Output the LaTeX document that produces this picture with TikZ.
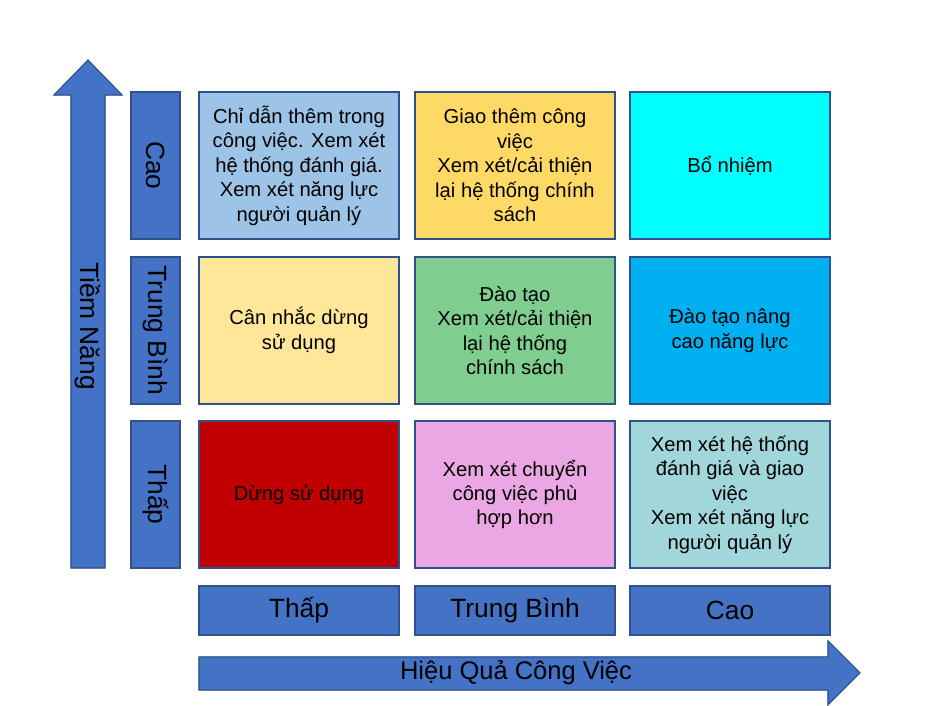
\documentclass[tikz,border=0pt]{standalone}
\usepackage{fontspec}
\setmainfont{Liberation Sans}
\definecolor{axisblue}{HTML}{4472C4}
\definecolor{edgeblue}{HTML}{2F528F}
\definecolor{skyblue}{HTML}{9DC3E6}
\definecolor{gold}{HTML}{FFD966}
\definecolor{aqua}{HTML}{00FFFF}
\definecolor{cream}{HTML}{FFE699}
\definecolor{mint}{HTML}{7FCD8F}
\definecolor{ocean}{HTML}{00B0F0}
\definecolor{crimson}{HTML}{C00000}
\definecolor{orchid}{HTML}{EBA7E4}
\definecolor{teal}{HTML}{A1D7DA}
\tikzset{
  cell/.style={draw=edgeblue, line width=0.6pt, minimum width=4cm, minimum height=2.94cm,
    align=center, font=\fontsize{11.5}{13.9}\selectfont},
  lab/.style={fill=axisblue, draw=edgeblue, line width=0.6pt, font=\fontsize{15}{18}\selectfont},
  axisarrow/.style={fill=axisblue, draw=edgeblue, line width=0.6pt}
}
\begin{document}
\begin{tikzpicture}
\useasboundingbox (0,0) rectangle (18.98,14.12);
% axes
\filldraw[axisblue] (1.42,2.76) -- (1.42,12.22) -- (1.08,12.22) -- (1.76,12.92)
  -- (2.44,12.22) -- (2.10,12.22) -- (2.10,2.76) -- cycle;
\draw[edgeblue, line width=0.6pt] (1.42,2.76) -- (1.42,12.22) -- (1.08,12.22) -- (1.76,12.92)
  -- (2.44,12.22) -- (2.10,12.22) -- (2.10,2.76) -- cycle;
\filldraw[axisblue] (3.98,0.32) -- (16.56,0.32) -- (16.56,0.02) -- (17.20,0.66)
  -- (16.56,1.30) -- (16.56,0.98) -- (3.98,0.98) -- cycle;
\draw[edgeblue, line width=0.6pt] (3.98,0.32) -- (16.56,0.32) -- (16.56,0.02) -- (17.20,0.66)
  -- (16.56,1.30) -- (16.56,0.98) -- (3.98,0.98) -- cycle;
\node[rotate=-90, font=\fontsize{15}{18}\selectfont] (potential) at (1.76,7.60) {Tiềm Năng};
\node[font=\fontsize{14.5}{17}\selectfont] (performance) at (10.32,0.66) {Hiệu Quả Công Việc};

% level labels
\foreach \txt/\y [count=\i] in {Thấp/4.23, Trung Bình/7.51, Cao/10.81} {
    \node[lab, rotate=-90, minimum width=2.94cm, minimum height=0.98cm] (row\i) at (3.11,\y) {\txt};
}
\foreach \txt/\x [count=\i] in {Thấp/5.98, Trung Bình/10.30, Cao/14.60} {
    \node[lab, minimum width=4cm, minimum height=0.98cm] (col\i) at (\x,1.91) {\txt};
}

% top row
\node[cell, fill=skyblue] (c13) at (5.98,10.81)
  {Chỉ dẫn thêm trong\\công việc. Xem xét\\hệ thống đánh giá.\\Xem xét năng lực\\người quản lý};
\node[cell, fill=gold] (c23) at (10.30,10.81)
  {Giao thêm công\\việc\\Xem xét/cải thiện\\lại hệ thống chính\\sách};
\node[cell, fill=aqua] (c33) at (14.60,10.81) {Bổ nhiệm};
% middle row
\node[cell, fill=cream] (c12) at (5.98,7.51) {Cân nhắc dừng\\sử dụng};
\node[cell, fill=mint] (c22) at (10.30,7.51)
  {Đào tạo\\Xem xét/cải thiện\\lại hệ thống\\chính sách};
\node[cell, fill=ocean] (c32) at (14.60,7.51) {Đào tạo nâng\\cao năng lực};
% bottom row
\node[cell, fill=crimson] (c11) at (5.98,4.23) {Dừng sử dụng};
\node[cell, fill=orchid] (c21) at (10.30,4.23)
  {Xem xét chuyển\\công việc phù\\hợp hơn};
\node[cell, fill=teal] (c31) at (14.60,4.23)
  {Xem xét hệ thống\\đánh giá và giao\\việc\\Xem xét năng lực\\người quản lý};
\end{tikzpicture}
\end{document}
